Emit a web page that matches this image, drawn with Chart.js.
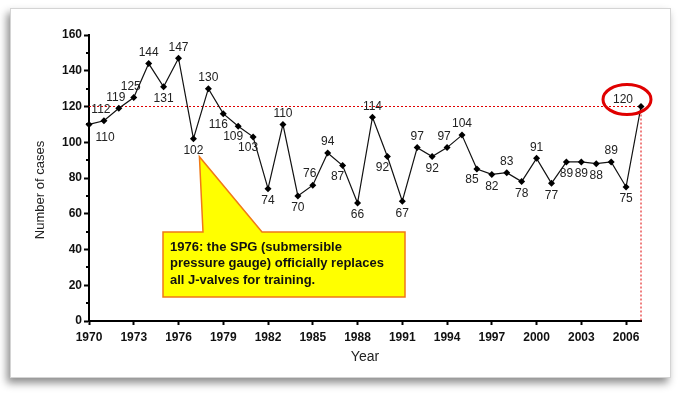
<!DOCTYPE html>
<html>
<head>
<meta charset="utf-8">
<script src="https://cdn.jsdelivr.net/npm/chart.js@4"></script>
<style>
  html, body { margin: 0; padding: 0; background: #fff; }
  #card {
    position: absolute; left: 10px; top: 8px; width: 659px; height: 368px;
    background: #fff; border: 1px solid #d4d4d4;
    box-shadow: -3px 5px 8px rgba(0, 0, 0, 0.45);
  }
  #graph { position: absolute; left: 0; top: 0; }
</style>
</head>
<body>
<div id="card"></div>
<canvas id="graph" width="681" height="394"></canvas>
<script>
var years = [1970, 1971, 1972, 1973, 1974, 1975, 1976, 1977, 1978, 1979,
  1980, 1981, 1982, 1983, 1984, 1985, 1986, 1987, 1988, 1989,
  1990, 1991, 1992, 1993, 1994, 1995, 1996, 1997, 1998, 1999,
  2000, 2001, 2002, 2003, 2004, 2005, 2006, 2007];
var cases = [110, 112, 119, 125, 144, 131, 147, 102, 130, 116,
  109, 103, 74, 110, 70, 76, 94, 87, 66, 114,
  92, 67, 97, 92, 97, 104, 85, 82, 83, 78,
  91, 77, 89, 89, 88, 89, 75, 120];
var xTickYears = [1970, 1973, 1976, 1979, 1982, 1985, 1988, 1991, 1994, 1997, 2000, 2003, 2006];
var yTicks = [0, 20, 40, 60, 80, 100, 120, 140, 160];
var noteLines = [
  "1976: the SPG (submersible",
  "pressure gauge) officially replaces",
  "all J-valves for training."
];

var FONT = "'Liberation Sans', Arial, sans-serif";

// where a value label goes, from the shape of the line around it
function labelOffset(i) {
  var v = cases[i], p = cases[i - 1], n = cases[i + 1];
  if (p === undefined) return [16, 13];
  if (n === undefined) return [-18, -7];
  if (v === p || v === n) return [0, 12];
  if (v > p && v > n) return [0, -11];
  if (v < p && v < n) return [0, 12];
  if (v > p) return [-3, -11];
  return [-5, 11];
}

var extras = {
  id: "extras",
  beforeDatasetsDraw: function (chart) {
    var ctx = chart.ctx, x = chart.scales.x, y = chart.scales.y;
    var last = cases.length - 1;
    var px = x.getPixelForValue(years[last]);
    var py = y.getPixelForValue(cases[last]);
    ctx.save();
    ctx.strokeStyle = "#e00000";
    ctx.lineWidth = 1;
    ctx.setLineDash([2, 2]);
    ctx.beginPath();
    ctx.moveTo(x.left, py);
    ctx.lineTo(px, py);
    ctx.lineTo(px, y.getPixelForValue(0));
    ctx.stroke();
    ctx.restore();
  },
  afterDraw: function (chart) {
    var ctx = chart.ctx, x = chart.scales.x, y = chart.scales.y;
    ctx.save();

    // minor ticks on the y axis
    ctx.strokeStyle = "#000";
    ctx.lineWidth = 2;
    for (var t = 10; t < 160; t += 20) {
      var ty = Math.round(y.getPixelForValue(t));
      ctx.beginPath();
      ctx.moveTo(x.left - 3, ty);
      ctx.lineTo(x.left, ty);
      ctx.stroke();
    }

    // y axis title
    ctx.fillStyle = "#222";
    ctx.font = "13px " + FONT;
    ctx.textAlign = "center";
    ctx.textBaseline = "middle";
    ctx.translate(40, 190);
    ctx.rotate(-Math.PI / 2);
    ctx.fillText("Number of cases", 0, 0);
    ctx.setTransform(1, 0, 0, 1, 0, 0);

    // value labels
    var meta = chart.getDatasetMeta(0);
    ctx.font = "12px " + FONT;
    ctx.fillStyle = "#222";
    meta.data.forEach(function (pt, i) {
      var off = labelOffset(i);
      ctx.fillText(String(cases[i]), pt.x + off[0], pt.y + off[1]);
    });

    // red ring round the last value
    var lp = meta.data[cases.length - 1];
    ctx.strokeStyle = "#e00000";
    ctx.lineWidth = 3;
    ctx.beginPath();
    ctx.ellipse(lp.x - 14, lp.y - 7, 24, 15, 0, 0, Math.PI * 2);
    ctx.stroke();

    // callout pointing at 1977
    var cp = meta.data[years.indexOf(1977)];
    ctx.beginPath();
    ctx.moveTo(163, 232);
    ctx.lineTo(203, 232);
    ctx.lineTo(cp.x + 6, cp.y + 18);
    ctx.lineTo(262, 232);
    ctx.lineTo(405, 232);
    ctx.lineTo(405, 297);
    ctx.lineTo(163, 297);
    ctx.closePath();
    ctx.fillStyle = "#ffff00";
    ctx.fill();
    ctx.strokeStyle = "#f07818";
    ctx.lineWidth = 1.5;
    ctx.stroke();
    ctx.fillStyle = "#111";
    ctx.font = "bold 13px " + FONT;
    ctx.textAlign = "left";
    noteLines.forEach(function (line, k) {
      ctx.fillText(line, 170, 247 + k * 16.5);
    });
    ctx.restore();
  }
};

var config = {
  type: "line",
  data: {
    datasets: [{
      data: years.map(function (yr, i) {
        return { x: yr, y: cases[i] };
      }),
      borderColor: "#111",
      borderWidth: 1.2,
      backgroundColor: "#000",
      pointStyle: "rectRot",
      pointRadius: 3.5,
      pointBorderWidth: 0,
      tension: 0,
      clip: false
    }]
  },
  options: {
    responsive: false,
    devicePixelRatio: 1,
    animation: false,
    layout: { padding: { left: 0, top: 35, right: 40, bottom: 0 } },
    plugins: { legend: { display: false }, tooltip: { enabled: false } },
    scales: {
      x: {
        type: "linear",
        min: years[0],
        max: years[years.length - 1],
        afterBuildTicks: function (s) {
          s.ticks = xTickYears.map(function (v) { return { value: v }; });
        },
        ticks: {
          autoSkip: false, maxRotation: 0, padding: 5, color: "#111",
          font: { family: FONT, size: 12, weight: "bold" },
          callback: function (v) { return String(v); }
        },
        grid: { drawOnChartArea: false, tickLength: 4, tickColor: "#000", tickWidth: 2 },
        border: { color: "#000", width: 2 },
        title: {
          display: true, text: "Year", color: "#222",
          font: { family: FONT, size: 14 },
          padding: { top: 0, bottom: 28 }
        },
        afterFit: function (s) { s.height = 73; }
      },
      y: {
        min: 0,
        max: 160,
        afterBuildTicks: function (s) {
          s.ticks = yTicks.map(function (v) { return { value: v }; });
        },
        ticks: {
          padding: 2, color: "#111",
          font: { family: FONT, size: 12, weight: "bold" },
          callback: function (v) { return String(v); }
        },
        grid: { drawOnChartArea: false, tickLength: 5, tickColor: "#000", tickWidth: 2 },
        border: { color: "#000", width: 2 },
        afterFit: function (s) { s.width = 89; }
      }
    }
  },
  plugins: [extras]
};

new Chart(document.getElementById("graph"), config);
</script>
</body>
</html>
